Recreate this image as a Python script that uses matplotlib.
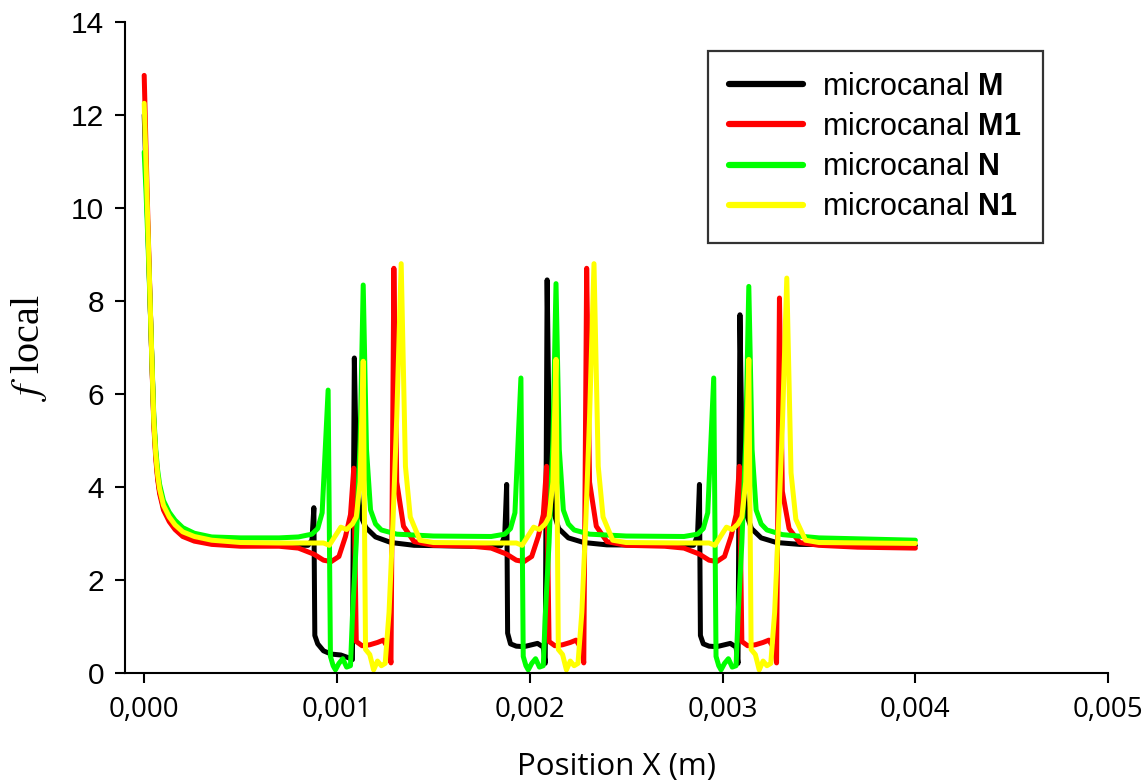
import numpy as np
import matplotlib
matplotlib.use("Agg")
import matplotlib.pyplot as plt

plt.rcParams['mathtext.fontset'] = 'custom'
plt.rcParams['mathtext.rm'] = 'Liberation Sans'
plt.rcParams['mathtext.bf'] = 'Liberation Sans:bold'

# shared x grid for the entrance decay (m)
x_start = [0.0, 0.00001, 0.00002, 0.00003, 0.00004, 0.00005, 0.00006, 0.00007, 0.00008,
           0.0001, 0.00013, 0.00016, 0.0002, 0.00026, 0.00035, 0.0005, 0.0007]

# microcanal M
x_M = x_start + [0.00085, 0.00087, 0.00088, 0.000885, 0.0009, 0.00093, 0.00097, 0.00102, 0.00106, 0.00108,
                 0.00109, 0.0011, 0.00112, 0.00115, 0.0012, 0.00128, 0.0014, 0.0017,
                 0.00185, 0.00187, 0.00188, 0.001885, 0.0019, 0.00193, 0.00197, 0.00201, 0.00204, 0.00207, 0.00208,
                 0.00209, 0.0021, 0.00212, 0.00215, 0.0022, 0.00228, 0.0024, 0.0027,
                 0.00285, 0.00287, 0.00288, 0.002885, 0.0029, 0.00293, 0.00297, 0.00301, 0.00304, 0.00307, 0.00308,
                 0.00309, 0.0031, 0.00312, 0.00315, 0.0032, 0.00328, 0.0034, 0.004]
y_M = [12.0, 10.7, 9.4, 8.05, 6.7, 5.4, 4.7, 4.2, 3.9, 3.55, 3.3, 3.13, 2.98, 2.88, 2.8, 2.76, 2.74,
       2.74, 2.85, 3.55, 0.8, 0.62, 0.47, 0.40, 0.38, 0.32, 0.28,
       6.77, 4.6, 3.4, 3.12, 2.92, 2.8, 2.74, 2.72,
       2.73, 2.95, 4.05, 0.85, 0.62, 0.57, 0.56, 0.6, 0.63, 0.55, 0.2,
       8.45, 5.2, 3.5, 3.1, 2.9, 2.8, 2.75, 2.74,
       2.74, 2.95, 4.05, 0.8, 0.62, 0.57, 0.56, 0.6, 0.63, 0.55, 0.2,
       7.7, 5.0, 3.45, 3.1, 2.9, 2.8, 2.76, 2.74]

# microcanal M1
x_M1 = x_start + [0.0008, 0.00088, 0.00093, 0.00097, 0.00101, 0.001044, 0.00107, 0.001087,
                  0.0011, 0.00113, 0.00117, 0.00121, 0.00124, 0.00127, 0.00128, 0.001295,
                  0.00131, 0.001345, 0.0014, 0.0015, 0.0017,
                  0.0018, 0.00188, 0.00193, 0.00197, 0.00201, 0.002044, 0.00207, 0.002087,
                  0.0021, 0.00213, 0.00217, 0.00221, 0.00224, 0.00227, 0.00228, 0.002295,
                  0.00231, 0.002345, 0.0024, 0.0025, 0.0027,
                  0.0028, 0.00288, 0.00293, 0.00297, 0.00301, 0.003044, 0.00307, 0.003087,
                  0.0031, 0.00313, 0.00317, 0.00321, 0.00324, 0.00327, 0.00328, 0.003295,
                  0.00331, 0.003345, 0.0034, 0.0035, 0.0037, 0.004]
y_M1 = [12.85, 11.2, 9.6, 8.1, 6.65, 5.3, 4.6, 4.15, 3.85, 3.5, 3.25, 3.08, 2.93, 2.83, 2.76, 2.72, 2.72,
        2.68, 2.55, 2.42, 2.39, 2.5, 2.93, 3.4, 4.4,
        0.67, 0.58, 0.6, 0.65, 0.7, 0.5, 0.21, 8.7,
        4.1, 3.15, 2.82, 2.74, 2.72,
        2.68, 2.55, 2.42, 2.39, 2.5, 2.93, 3.4, 4.44,
        0.67, 0.58, 0.6, 0.65, 0.7, 0.5, 0.21, 8.7,
        4.1, 3.15, 2.82, 2.74, 2.72,
        2.68, 2.55, 2.42, 2.39, 2.5, 2.93, 3.4, 4.44,
        0.67, 0.58, 0.6, 0.65, 0.7, 0.5, 0.21, 8.06,
        3.9, 3.1, 2.8, 2.74, 2.7, 2.68]

# microcanal N
x_N = x_start + [0.0008, 0.00087, 0.0009, 0.000923, 0.000954, 0.000966, 0.00098, 0.000992, 0.00101, 0.00103,
                 0.00105, 0.00107, 0.00108, 0.0011, 0.00112, 0.001136, 0.001153, 0.001174, 0.0012, 0.00123,
                 0.00131, 0.0015, 0.0018,
                 0.00187, 0.0019, 0.001923, 0.001954, 0.001966, 0.00198, 0.001992, 0.00201, 0.00203,
                 0.00205, 0.00207, 0.00208, 0.0021, 0.00212, 0.002136, 0.002153, 0.002174, 0.0022, 0.00223,
                 0.00231, 0.0025, 0.0028,
                 0.00287, 0.0029, 0.002923, 0.002954, 0.002966, 0.00298, 0.002992, 0.00301, 0.00303,
                 0.00305, 0.00307, 0.00308, 0.0031, 0.00312, 0.003136, 0.003153, 0.003174, 0.0032, 0.00323,
                 0.00331, 0.0035, 0.004]
y_N = [11.2, 10.3, 9.2, 8.0, 6.75, 5.5, 4.8, 4.35, 4.05, 3.7, 3.45, 3.28, 3.12, 3.0, 2.92, 2.9, 2.9,
       2.92, 2.98, 3.1, 3.44, 6.08, 0.35, 0.15, 0.06, 0.2, 0.3,
       0.12, 0.15, 1.2, 2.8, 5.0, 8.34, 4.8, 3.5, 3.2, 3.07,
       2.98, 2.94, 2.93,
       2.98, 3.1, 3.44, 6.34, 0.35, 0.15, 0.06, 0.2, 0.3,
       0.12, 0.15, 1.2, 2.8, 5.0, 8.37, 4.8, 3.5, 3.2, 3.07,
       2.98, 2.94, 2.93,
       2.98, 3.1, 3.44, 6.34, 0.35, 0.15, 0.06, 0.2, 0.3,
       0.12, 0.15, 1.2, 2.8, 5.0, 8.31, 4.8, 3.5, 3.2, 3.07,
       2.97, 2.9, 2.85]

# microcanal N1
x_N1 = x_start + [0.00093, 0.00096, 0.001, 0.00102, 0.00105, 0.00108, 0.0011, 0.00112, 0.001136,
                  0.001148, 0.00117, 0.00119, 0.00121, 0.00123, 0.00125, 0.00127, 0.00129, 0.00131, 0.001333,
                  0.001355, 0.00138, 0.00143, 0.0015, 0.0018,
                  0.00193, 0.00196, 0.002, 0.00202, 0.00205, 0.00208, 0.0021, 0.00212, 0.002136,
                  0.002148, 0.00217, 0.00219, 0.00221, 0.00223, 0.00225, 0.00227, 0.00229, 0.00231, 0.002333,
                  0.002355, 0.00238, 0.00243, 0.0025, 0.0028,
                  0.00293, 0.00296, 0.003, 0.00302, 0.00305, 0.00308, 0.0031, 0.00312, 0.003136,
                  0.003148, 0.00317, 0.00319, 0.00321, 0.00323, 0.00325, 0.00327, 0.00329, 0.00331, 0.003333,
                  0.003355, 0.00338, 0.00343, 0.0035, 0.004]
y_N1 = [12.25, 10.9, 9.5, 8.1, 6.7, 5.4, 4.7, 4.25, 3.95, 3.6, 3.35, 3.18, 3.03, 2.93, 2.85, 2.8, 2.79,
        2.79, 2.74, 3.0, 3.13, 3.08, 3.2, 3.35, 4.1, 6.7,
        0.5, 0.39, 0.06, 0.25, 0.15, 0.2, 1.3, 3.2, 5.5, 8.8,
        4.44, 3.35, 2.85, 2.8, 2.79,
        2.79, 2.74, 3.0, 3.13, 3.08, 3.2, 3.35, 4.1, 6.74,
        0.5, 0.39, 0.06, 0.25, 0.15, 0.2, 1.3, 3.2, 5.5, 8.8,
        4.44, 3.35, 2.85, 2.8, 2.79,
        2.79, 2.74, 3.0, 3.13, 3.08, 3.2, 3.35, 4.1, 6.74,
        0.5, 0.39, 0.06, 0.25, 0.15, 0.2, 1.3, 3.2, 5.3, 8.49,
        4.3, 3.3, 2.85, 2.8, 2.78]

labels = [r"microcanal $\mathbf{M}$", r"microcanal $\mathbf{M1}$",
          r"microcanal $\mathbf{N}$", r"microcanal $\mathbf{N1}$"]
colors = ["#000000", "#ff0000", "#00ff00", "#ffff00"]

x_ticks = [0.0, 0.001, 0.002, 0.003, 0.004, 0.005]
x_tick_labels = ["0,000", "0,001", "0,002", "0,003", "0,004", "0,005"]
y_ticks = [0, 2, 4, 6, 8, 10, 12, 14]

fig = plt.figure(figsize=(11.46, 7.84), dpi=100)
ax = fig.add_axes([0.109, 0.142, 0.858, 0.830])

for xs, ys, c, lab in zip([x_M, x_M1, x_N, x_N1], [y_M, y_M1, y_N, y_N1], colors, labels):
    ax.plot(xs, ys, color=c, lw=3.6, label=lab, solid_joinstyle='round', solid_capstyle='round')

ax.set_xlim(-0.0001, 0.005)
ax.set_ylim(0, 14)
ax.spines['top'].set_visible(False)
ax.spines['right'].set_visible(False)
for s in ['left', 'bottom']:
    ax.spines[s].set_linewidth(1.5)

ax.set_xticks(x_ticks)
ax.set_xticklabels(x_tick_labels, family='Open Sans', fontsize=20)
ax.set_yticks(y_ticks)
ax.set_yticklabels([str(v) for v in y_ticks], family='Liberation Sans', fontsize=21.5)
ax.tick_params(axis='both', direction='out', length=7, width=1.5)
ax.tick_params(axis='y', pad=8)
ax.tick_params(axis='x', pad=10)

ax.set_xlabel("Position X (m)", family='Open Sans', fontsize=22.5, labelpad=20)
ax.set_ylabel(r"$f$ local", family='Liberation Serif', fontsize=29, labelpad=16)
ax.yaxis.label.set_math_fontfamily('stix')

leg = ax.legend(loc='upper left', bbox_to_anchor=(708 / 1146, 1 - 51 / 784),
                bbox_transform=fig.transFigure, prop={'family': 'Liberation Sans', 'size': 22},
                frameon=True, fancybox=False, handlelength=2.42, handletextpad=0.62,
                borderpad=0.69, labelspacing=0.33, borderaxespad=0)
leg.get_frame().set_edgecolor('black')
leg.get_frame().set_linewidth(1.6)
for line in leg.get_lines():
    line.set_linewidth(4.5)

plt.savefig("out.png", dpi=100)
